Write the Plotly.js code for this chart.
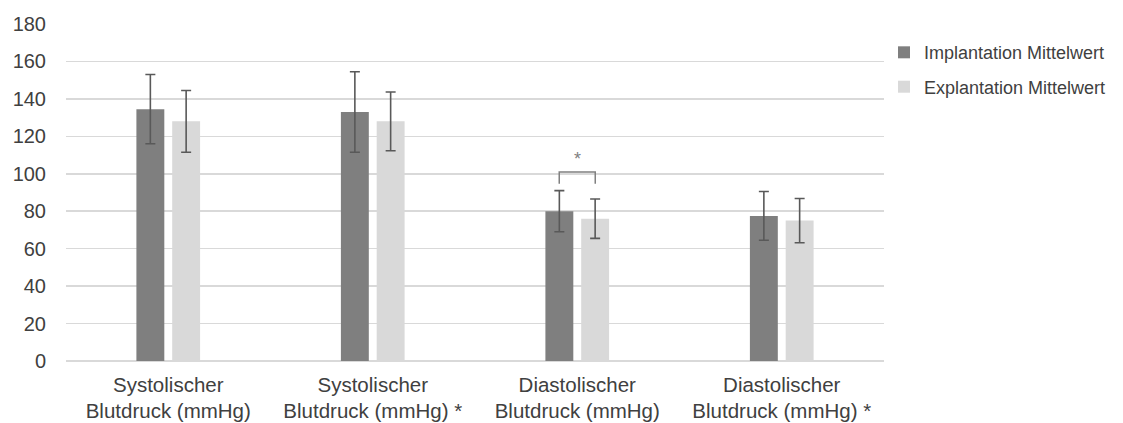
<!DOCTYPE html>
<html><head><meta charset="utf-8">
<script src="https://cdn.plot.ly/plotly-3.0.1.min.js"></script>
<style>html,body{margin:0;padding:0;background:#fff}#chart{width:1123px;height:423px}</style>
</head><body><div id="chart"></div>
<script>
const categories = ["Systolischer<br>Blutdruck (mmHg)", "Systolischer<br>Blutdruck (mmHg) *", "Diastolischer<br>Blutdruck (mmHg)", "Diastolischer<br>Blutdruck (mmHg) *"];
const implantMean = [134.5, 133, 80, 77.5];
const implantSD = [18.5, 21.5, 11, 13];
const explantMean = [128, 128, 76, 75];
const explantSD = [16.5, 15.7, 10.5, 11.8];
const yTicks = [0, 20, 40, 60, 80, 100, 120, 140, 160, 180];
const bracketY = [94.7, 101, 101, 94.7];

const errStyle = {type: 'data', visible: true, color: '#595959', thickness: 1.6, width: 5};
const traces = [
  {type: 'bar', name: 'Implantation Mittelwert', legendgroup: 'a', x: categories, y: implantMean,
   marker: {color: '#7f7f7f'}, error_y: Object.assign({array: implantSD}, errStyle)},
  {type: 'bar', name: 'Explantation Mittelwert', legendgroup: 'b', x: categories, y: explantMean,
   marker: {color: '#d9d9d9'}, error_y: Object.assign({array: explantSD}, errStyle)}
];

const off = 0.088;
const bx = 2;
traces.push({type: 'scatter', mode: 'lines', x: [bx - off, bx - off, bx + off, bx + off], y: bracketY,
  xaxis: 'x2', line: {color: '#808080', width: 1.5}, showlegend: false, hoverinfo: 'skip'});

const layout = {
  width: 1123, height: 423,
  margin: {l: 66, r: 236, t: 24, b: 62},
  paper_bgcolor: '#fff', plot_bgcolor: '#fff',
  font: {family: '"Liberation Sans", Arial, sans-serif', size: 20, color: '#404040'},
  barmode: 'group', bargap: 0.65, bargroupgap: 0.22,
  xaxis: {type: 'category', showgrid: false, zeroline: false, showline: false, ticks: '',
          ticklabelstandoff: 9, tickfont: {size: 20.5, color: '#404040'}},
  xaxis2: {overlaying: 'x', range: [-0.5, 3.5], visible: false},
  yaxis: {range: [0, 180], tickvals: yTicks, showgrid: true, gridcolor: '#d9d9d9', gridwidth: 1.5,
          zeroline: true, zerolinecolor: '#d9d9d9', zerolinewidth: 1.5, showline: false, ticks: '',
          ticklabelstandoff: 19, tickfont: {size: 20, color: '#404040'}},
  showlegend: true,
  legend: {x: 1, xanchor: 'left', xref: 'paper', y: 0.97, yanchor: 'top', font: {size: 18, color: '#404040'},
           bgcolor: 'rgba(0,0,0,0)', traceorder: 'grouped', tracegroupgap: 8, itemwidth: 30},
  annotations: [
    {xref: 'x', yref: 'y', x: bx, y: 101.5, text: '*', showarrow: false, yanchor: 'bottom',
     font: {size: 18, color: '#808080'}}
  ]
};
Plotly.newPlot('chart', traces, layout, {displayModeBar: false, staticPlot: true});
</script></body></html>
